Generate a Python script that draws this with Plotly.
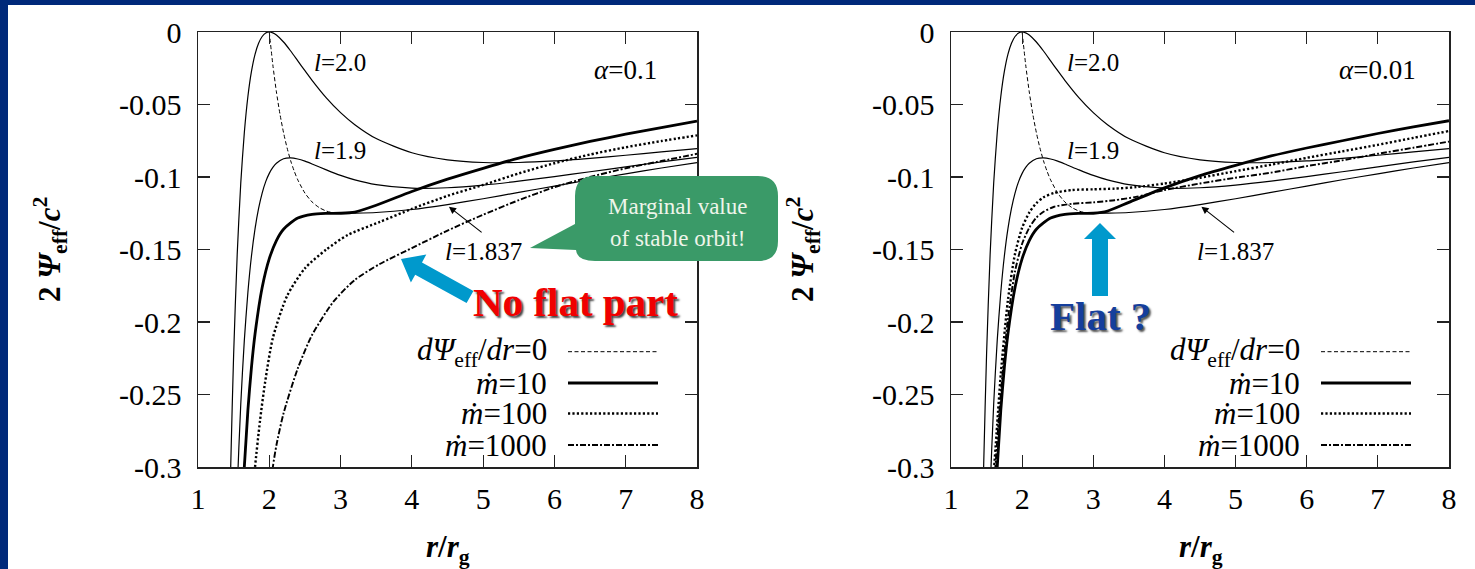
import plotly.graph_objects as go

# ---------------- data ----------------
# radius grid for the Keplerian-like effective potential curves
R_L = [1.44, 1.46, 1.5, 1.55, 1.6, 1.65, 1.7, 1.75, 1.8, 1.85, 1.9, 1.95, 2.0, 2.05, 2.1,
       2.2, 2.3, 2.4, 2.5, 2.6, 2.8, 3.0, 3.2, 3.5, 4.0, 4.5, 5.0, 5.5, 6.0, 6.5, 7.0, 7.5, 8.0]
PSI_L20 = [-0.3437, -0.2974, -0.2222, -0.1533, -0.1042, -0.0693, -0.0445, -0.0272, -0.0154, -0.0078,
           -0.0031, -0.0007, 0.0, -0.0006, -0.0021, -0.0069, -0.0131, -0.0199, -0.0267, -0.0333,
           -0.0454, -0.0556, -0.0639, -0.0735, -0.0833, -0.0882, -0.0900, -0.0900, -0.0889, -0.0871,
           -0.0850, -0.0827, -0.0804]
PSI_L19 = [-0.5318, -0.4803, -0.3956, -0.3156, -0.2565, -0.2125, -0.1795, -0.1545, -0.1358, -0.1217,
           -0.1111, -0.1032, -0.0975, -0.0934, -0.0905, -0.0874, -0.0868, -0.0876, -0.0891, -0.0910,
           -0.0951, -0.0989, -0.1020, -0.1053, -0.1077, -0.1074, -0.1056, -0.1029, -0.0997, -0.0964,
           -0.0930, -0.0896, -0.0865]
PSI_L1837 = [-0.6451, -0.5906, -0.5000, -0.4134, -0.3483, -0.2988, -0.2608, -0.2313, -0.2083, -0.1904,
             -0.1762, -0.1650, -0.1563, -0.1493, -0.1438, -0.1360, -0.1312, -0.1283, -0.1267, -0.1257,
             -0.1251, -0.1250, -0.1249, -0.1245, -0.1224, -0.1190, -0.1150, -0.1106, -0.1063, -0.1019,
             -0.0978, -0.0938, -0.0901]

# locus dPsi_eff/dr = 0
R_EXT = [2.0, 2.05, 2.1, 2.15, 2.2, 2.25, 2.3, 2.35, 2.4, 2.5, 2.6, 2.7, 2.8, 2.9, 3.0]
PSI_EXT = [0.0, -0.0227, -0.0413, -0.0567, -0.0694, -0.0800, -0.0888, -0.0960, -0.1020, -0.1111,
           -0.1172, -0.1211, -0.1235, -0.1247, -0.1250]

# alpha = 0.1 transonic solutions
R_M10_A1 = [1.64, 1.7, 1.75, 1.8, 1.9, 2.0, 2.1, 2.2, 2.4, 2.6, 2.8, 3.0, 3.2, 3.5, 4.0, 4.5, 5.0,
            5.5, 6.0, 6.5, 7.0, 7.5, 8.0]
PSI_M10_A1 = [-0.3077, -0.2608, -0.2313, -0.2083, -0.1762, -0.1563, -0.1438, -0.1360, -0.1283, -0.1257,
              -0.1251, -0.1250, -0.1242, -0.1195, -0.1100, -0.1015, -0.0940, -0.0870, -0.0810, -0.0755,
              -0.0705, -0.0660, -0.0615]
R_M100_A1 = [1.78, 1.80, 1.87, 1.94, 2.05, 2.25, 2.5, 2.8, 3.1, 3.55, 4.0, 4.5, 5.0, 5.5, 6.0, 6.5,
             7.0, 7.5, 8.0]
PSI_M100_A1 = [-0.312, -0.300, -0.268, -0.242, -0.211, -0.182, -0.163, -0.150, -0.140, -0.131, -0.122,
               -0.113, -0.1055, -0.0975, -0.0905, -0.0845, -0.0795, -0.0752, -0.0713]
R_M1000_A1 = [2.03, 2.05, 2.1, 2.2, 2.4, 2.6, 2.9, 3.2, 3.55, 4.0, 4.5, 5.0, 5.5, 6.0, 6.5, 7.0, 7.5, 8.0]
PSI_M1000_A1 = [-0.310, -0.300, -0.285, -0.263, -0.232, -0.209, -0.186, -0.171, -0.160, -0.149, -0.137,
                -0.126, -0.116, -0.107, -0.100, -0.094, -0.089, -0.0840]

# alpha = 0.01 transonic solutions
R_M10_A01 = [1.64, 1.7, 1.75, 1.8, 1.9, 2.0, 2.1, 2.2, 2.4, 2.6, 2.8, 3.0, 3.2, 3.5, 4.0, 4.5, 5.0,
             5.5, 6.0, 6.5, 7.0, 7.5, 8.0]
PSI_M10_A01 = [-0.3077, -0.2608, -0.2313, -0.2083, -0.1762, -0.1563, -0.1438, -0.1360, -0.1283, -0.1257,
               -0.1251, -0.1250, -0.1235, -0.1175, -0.1075, -0.0990, -0.0920, -0.0855, -0.0800, -0.0750,
               -0.0700, -0.0655, -0.0612]
R_M100_A01 = [1.60, 1.65, 1.70, 1.80, 1.90, 2.00, 2.10, 2.20, 2.30, 2.45, 2.70, 3.00, 3.30, 3.60, 4.00,
              4.50, 5.00, 5.50, 6.00, 6.50, 7.00, 7.50, 8.00]
PSI_M100_A01 = [-0.305, -0.270, -0.236, -0.185, -0.153, -0.135, -0.1245, -0.118, -0.114, -0.111, -0.109,
                -0.1085, -0.108, -0.107, -0.1045, -0.1005, -0.096, -0.0915, -0.0868, -0.0823, -0.0778,
                -0.0730, -0.0683]
R_M1000_A01 = [1.62, 1.67, 1.72, 1.80, 1.90, 2.00, 2.10, 2.20, 2.30, 2.45, 2.70, 3.00, 3.30, 3.60, 4.00,
               4.50, 5.00, 5.50, 6.00, 6.50, 7.00, 7.50, 8.00]
PSI_M1000_A01 = [-0.303, -0.268, -0.238, -0.198, -0.165, -0.146, -0.135, -0.128, -0.124, -0.1205, -0.1185,
                 -0.1175, -0.116, -0.1137, -0.109, -0.1045, -0.1005, -0.0970, -0.0925, -0.0885, -0.0840,
                 -0.0798, -0.0756]

X_TICKS = [1, 2, 3, 4, 5, 6, 7, 8]
Y_TICKS = [0, -0.05, -0.1, -0.15, -0.2, -0.25, -0.3]
Y_TICK_TEXT = ["0", "-0.05", "-0.1", "-0.15", "-0.2", "-0.25", "-0.3"]
ALPHA_LABELS = ["<i>α</i>=0.1", "<i>α</i>=0.01"]
L_LABELS = ["<i>l</i>=2.0", "<i>l</i>=1.9", "<i>l</i>=1.837"]
LEGEND_LABELS = ["<i>d</i><i>Ψ</i><sub>eff</sub>/<i>dr</i>=0", "<i>ṁ</i>=10", "<i>ṁ</i>=100", "<i>ṁ</i>=1000"]

# ---------------- figure geometry ----------------
W, H = 1475, 569
FONT = "Liberation Serif"
PLOT_X = [(198, 697), (951, 1449)]
PLOT_TOP, PLOT_BOT = 32, 467


def px(x):
    return x / W


def py(y):
    return 1 - y / H


def P(x, y):
    return f"{px(x):.5f},{py(y):.5f}"


fig = go.Figure()

STYLES = {
    "thin": dict(color="black", width=1.2),
    "ext": dict(color="black", width=1.0, dash="4px,2.5px"),
    "m10": dict(color="black", width=2.8),
    "m100": dict(color="black", width=2.4, dash="2.2px,2.2px"),
    "m1000": dict(color="black", width=1.9, dash="6px,2px,2px,2px"),
}

panels = [
    dict(xa="x", ya="y", m10=(R_M10_A1, PSI_M10_A1), m100=(R_M100_A1, PSI_M100_A1),
         m1000=(R_M1000_A1, PSI_M1000_A1)),
    dict(xa="x2", ya="y2", m10=(R_M10_A01, PSI_M10_A01), m100=(R_M100_A01, PSI_M100_A01),
         m1000=(R_M1000_A01, PSI_M1000_A01)),
]


def add(xs, ys, style, xa, ya):
    line = dict(STYLES[style])
    line["shape"] = "spline"
    line["smoothing"] = 0.7
    fig.add_trace(go.Scatter(x=xs, y=ys, mode="lines", line=line, xaxis=xa, yaxis=ya,
                             showlegend=False, hoverinfo="skip"))


for p in panels:
    add(R_L, PSI_L20, "thin", p["xa"], p["ya"])
    add(R_L, PSI_L19, "thin", p["xa"], p["ya"])
    add(R_L, PSI_L1837, "thin", p["xa"], p["ya"])
    add(R_EXT, PSI_EXT, "ext", p["xa"], p["ya"])
    add(*p["m1000"], "m1000", p["xa"], p["ya"])
    add(*p["m100"], "m100", p["xa"], p["ya"])
    add(*p["m10"], "m10", p["xa"], p["ya"])

axis_common = dict(showline=True, linewidth=1.5, linecolor="#222", mirror="ticks", ticks="inside",
                   ticklen=12, tickwidth=1.2, tickcolor="#222", showgrid=False, zeroline=False,
                   automargin=False, tickfont=dict(family=FONT, size=30, color="black"))

layout = dict(width=W, height=H, autosize=False,
              margin=dict(l=0, r=0, t=0, b=0, pad=0, autoexpand=False),
              font=dict(family=FONT, color="black"),
              paper_bgcolor="#00297A", plot_bgcolor="white", showlegend=False)
for i, (x0, x1) in enumerate(PLOT_X):
    sx = "" if i == 0 else str(i + 1)
    layout["xaxis" + sx] = dict(axis_common, domain=[px(x0), px(x1)], range=[1, 8], tickvals=X_TICKS,
                                anchor="y" + sx, ticklabelstandoff=4)
    layout["yaxis" + sx] = dict(axis_common, domain=[py(PLOT_BOT), py(PLOT_TOP)], range=[-0.3, 0],
                                tickvals=Y_TICKS, ticktext=Y_TICK_TEXT, anchor="x" + sx,
                                ticklabelstandoff=9)
fig.update_layout(**layout)

shapes = []
annotations = []


def note(x, y, text, size, xref="paper", yref="paper", color="black", xanchor="center", **kw):
    d = dict(x=x, y=y, xref=xref, yref=yref, text=text, showarrow=False, xanchor=xanchor,
             yanchor="middle", font=dict(family=FONT, size=size, color=color))
    d.update(kw)
    annotations.append(d)


# white slide content area
shapes.append(dict(type="rect", xref="paper", yref="paper", x0=px(8), x1=1.0, y0=0.0,
                   y1=py(5), fillcolor="white", line=dict(width=0), layer="below"))

LEG_Y = [351.7, 383, 413.5, 445]
LEG_STYLES = ["ext", "m10", "m100", "m1000"]

for i, (x0, x1) in enumerate(PLOT_X):
    sx = "" if i == 0 else str(i + 1)
    dx = x0 - PLOT_X[0][0]
    xr, yr = "x" + sx, "y" + sx
    # curve labels
    note(2.99, -0.021, L_LABELS[0], 25, xr, yr)
    note(2.99, -0.082, L_LABELS[1], 25, xr, yr)
    note(5.0, -0.1515, L_LABELS[2], 25, xr, yr)
    annotations.append(dict(x=4.52, y=-0.1205, xref=xr, yref=yr, ax=5.0, ay=-0.139, axref=xr, ayref=yr,
                            text="", showarrow=True, arrowhead=2, arrowsize=1.3, arrowwidth=1.1,
                            arrowcolor="black"))
    note(6.99, -0.0262, ALPHA_LABELS[i], 27, xr, yr)
    # axis titles
    note(px(50 + dx), py(250), "<b>2 <i>Ψ</i><sub>eff</sub>/<i>c</i><sup>2</sup></b>", 31, textangle=-90)
    note(px(448 + dx), py(549), "<b><i>r</i>/<i>r</i><sub>g</sub></b>", 31)
    # hand-made gnuplot style key (text on the left, sample on the right)
    for lab, ly, st in zip(LEGEND_LABELS, LEG_Y, LEG_STYLES):
        note(px(549 + dx), py(ly), lab, 31, xanchor="right")
        s = STYLES[st]
        shapes.append(dict(type="line", xref="paper", yref="paper", x0=px(568 + dx), x1=px(658 + dx),
                           y0=py(ly), y1=py(ly), layer="above",
                           line=dict(color="black", width=s["width"], dash=s.get("dash", "solid"))))

# green speech bubble
bubble = ("M " + P(595, 176) + " L " + P(758, 176) + " Q " + P(778, 176) + " " + P(778, 196) +
          " L " + P(778, 241) + " Q " + P(778, 261) + " " + P(758, 261) + " L " + P(595, 261) +
          " Q " + P(577, 261) + " " + P(576, 250) + " L " + P(530, 248) + " L " + P(575, 224) +
          " L " + P(575, 196) + " Q " + P(575, 176) + " " + P(595, 176) + " Z")
shapes.append(dict(type="path", xref="paper", yref="paper", path=bubble, fillcolor="#3A9A68",
                   line=dict(width=0), layer="above"))
note(px(677), py(206), "Marginal value", 23, color="#EEF5EA")
note(px(677), py(238), "of stable orbit!", 23, color="#EEF5EA")

# blue arrows
arrow_left = [(473.4, 290.9), (422.0, 262.5), (426.3, 254.5), (401.0, 259.0), (410.9, 282.6),
              (415.2, 274.7), (466.6, 303.1)]
arrow_right = [(1092, 296), (1092, 239), (1084, 239), (1100, 223), (1116, 239), (1108, 239), (1108, 296)]
for pts in (arrow_left, arrow_right):
    path = "M " + " L ".join(P(a, b) for a, b in pts) + " Z"
    shapes.append(dict(type="path", xref="paper", yref="paper", path=path, fillcolor="#0099CC",
                       line=dict(width=0), layer="above"))

annotations.append(dict(x=px(575), y=py(302), xref="paper", yref="paper", text="<b>No flat part</b>",
                        showarrow=False, xanchor="center", yanchor="middle",
                        font=dict(family=FONT, size=41, color="#F00000", shadow="2px 2px 2px #444")))
annotations.append(dict(x=px(1100), y=py(316), xref="paper", yref="paper", text="<b>Flat ?</b>",
                        showarrow=False, xanchor="center", yanchor="middle",
                        font=dict(family=FONT, size=41, color="#153E9C", shadow="2px 2px 2px #555")))

fig.update_layout(shapes=shapes, annotations=annotations)
fig.write_html("out.html", config={"displayModeBar": False, "staticPlot": True},
               post_script="document.body.style.margin='0px';document.body.style.overflow='hidden';")
